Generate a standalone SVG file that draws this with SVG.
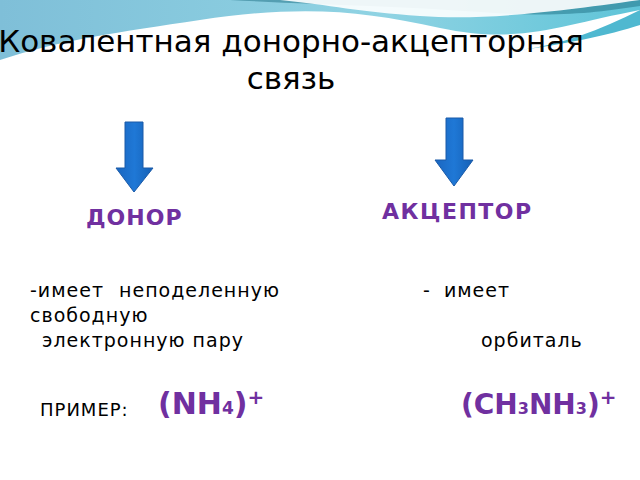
<svg xmlns="http://www.w3.org/2000/svg" width="640" height="480" viewBox="0 0 640 480">
<defs>
<linearGradient id="w" x1="0" y1="0" x2="1" y2="0"><stop offset="0" stop-color="#7fbfd8"/><stop offset="0.6" stop-color="#8fd3e3"/><stop offset="1" stop-color="#5fc4d8"/></linearGradient>
<linearGradient id="a" x1="0" y1="0" x2="1" y2="0"><stop offset="0" stop-color="#1a66c0"/><stop offset="0.5" stop-color="#1f78d6"/><stop offset="1" stop-color="#1560b5"/></linearGradient>
<style>
.t{font-family:"DejaVu Sans",sans-serif;fill:#000}
.b{font-size:19px;letter-spacing:1px}
.p{font-family:"DejaVu Sans",sans-serif;fill:#7030a0;font-weight:bold}
.arr{fill:url(#a);stroke:#1a5aa8;stroke-width:1}
</style>
</defs>
<rect width="640" height="480" fill="#fff"/>
<g id="background">
<path d="M0,0 H640 V10 C560,25 520,45 440,28 C360,10 300,5 200,20 C120,32 60,40 0,60 Z" fill="url(#w)"/>
<path d="M230,0 H640 V6 C600,12 560,18 480,12 C400,6 320,5 230,0 Z" fill="#1d6f84" opacity="0.5"/>
<path d="M280,0 C330,5 360,12 420,16 C480,20 540,14 640,0 Z" fill="#fff" opacity="0.9"/>
<path d="M640,10 C600,30 560,45 520,50 C560,45 610,35 640,25 Z" fill="#4fb8d0"/>
</g>
<g id="title">
<text class="t" x="291" y="52" font-size="31" text-anchor="middle">Ковалентная донорно-акцепторная</text>
<text class="t" x="291" y="89" font-size="31" text-anchor="middle">связь</text>
</g>
<g id="arrow-donor"><path class="arr" d="M125,122 H143 V168 H153 L134,192 L116,168 H125 Z"/></g>
<g id="arrow-acceptor"><path class="arr" d="M446,118 H463 V160 H473 L454,186 L435,160 H446 Z"/></g>
<g id="donor">
<text class="p" x="86" y="225" font-size="22" letter-spacing="1">ДОНОР</text>
<text class="t b" x="30" y="297" word-spacing="8">-имеет неподеленную</text>
<text class="t b" x="30" y="322">свободную</text>
<text class="t b" x="42" y="347">электронную пару</text>
</g>
<g id="acceptor">
<text class="p" x="382" y="219" font-size="22" letter-spacing="1.5">АКЦЕПТОР</text>
<text class="t b" x="423" y="297" word-spacing="6">-  имеет</text>
<text class="t b" x="481" y="347">орбиталь</text>
</g>
<g id="example">
<text class="t" x="40" y="416" font-size="18" letter-spacing="1">ПРИМЕР:</text>
<text class="p" x="158" y="414" font-size="30">(NH<tspan font-size="17">4</tspan>)<tspan font-size="20" dy="-10">+</tspan></text>
<text class="p" x="461" y="414" font-size="28">(CH<tspan font-size="16">3</tspan>NH<tspan font-size="16">3</tspan>)<tspan font-size="20" dy="-10">+</tspan></text>
</g>
</svg>
